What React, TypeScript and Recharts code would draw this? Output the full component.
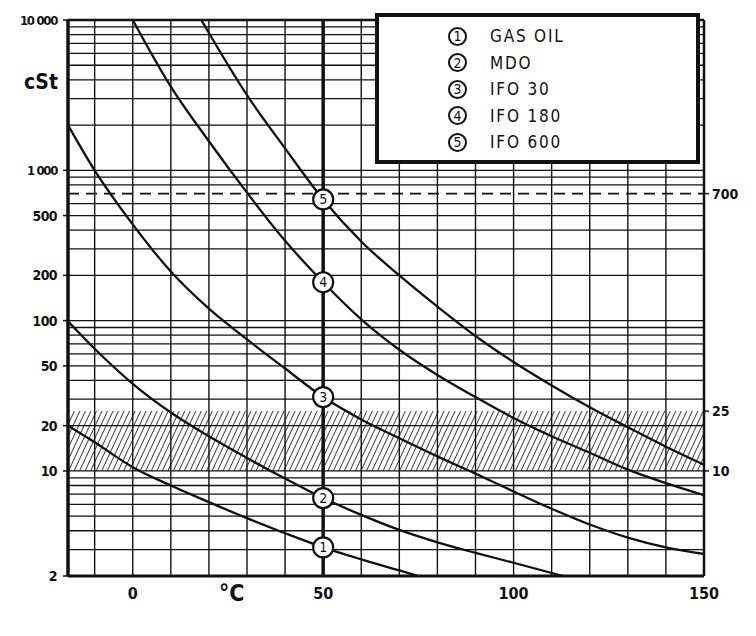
import React from "react";
import {
  LineChart,
  Line,
  XAxis,
  YAxis,
  ReferenceLine,
  ReferenceArea,
  ReferenceDot,
} from "recharts";

// viscosity (cSt) against temperature (°C)
const gasOilTemps = [-17, -10, 0, 10, 20, 30, 40, 50, 60, 70, 75];
const gasOilVisc = [20, 15.5, 10.6, 8.0, 6.2, 4.85, 3.85, 3.1, 2.58, 2.18, 2.0];

const mdoTemps = [-17, -10, 0, 10, 20, 30, 40, 50, 60, 70, 80, 90, 100, 113];
const mdoVisc = [99, 65, 38, 24.5, 17, 12.2, 8.9, 6.6, 5.1, 4.05, 3.35, 2.85, 2.45, 2.0];

const ifo30Temps = [-17, -10, 0, 10, 20, 30, 40, 50, 60, 70, 80, 90, 100, 110, 120, 130, 140, 150];
const ifo30Visc = [2000, 1000, 437, 212, 120, 75, 48, 31, 22, 16.5, 12.5, 9.6, 7.3, 5.6, 4.4, 3.6, 3.1, 2.8];

const ifo180Temps = [0, 10, 20, 30, 40, 50, 60, 70, 80, 90, 100, 110, 120, 130, 140, 150];
const ifo180Visc = [10000, 3600, 1560, 710, 340, 180, 102, 64, 43.5, 31, 22.5, 17, 13.2, 10.2, 8.3, 6.9];

const ifo600Temps = [18, 20, 30, 40, 50, 60, 70, 80, 90, 100, 110, 120, 130, 140, 150];
const ifo600Visc = [10000, 8200, 3160, 1400, 640, 336, 200, 124, 79, 53, 37, 26.5, 19.5, 14.5, 11];

const seriesNames = ["GAS OIL", "MDO", "IFO 30", "IFO 180", "IFO 600"];
const seriesTemps = [gasOilTemps, mdoTemps, ifo30Temps, ifo180Temps, ifo600Temps];
const seriesVisc = [gasOilVisc, mdoVisc, ifo30Visc, ifo180Visc, ifo600Visc];

const markerTemp = 50;

const xDomain = [-17, 150];
const xGrid = [-10, 0, 10, 20, 30, 40, 60, 70, 80, 90, 100, 110, 120, 130, 140];
const xTicks = [0, 26, 50, 100, 150];
const xTickLabels = ["0", "°C", "50", "100", "150"];

const yDomain = [2, 10000];
const yGrid = [
  3, 4, 5, 6, 7, 8, 9, 10,
  20, 30, 40, 50, 60, 70, 80, 90, 100,
  200, 300, 400, 500, 600, 800, 900, 1000,
  2000, 3000, 4000, 5000, 6000, 7000, 8000, 9000,
];
const yTicks = [2, 10, 20, 50, 100, 200, 500, 1000, 10000];
const yTickLabels = ["2", "10", "20", "50", "100", "200", "500", "1 000", "10 000"];
const rightTicks = [10, 25, 700];

const limitLine = 700;
const bandLow = 10;
const bandHigh = 25;

const FONT = "'DejaVu Sans Condensed', 'DejaVu Sans', sans-serif";
const INK = "#111";

const series = seriesNames.map((name, i) => ({
  id: i + 1,
  name,
  data: seriesTemps[i].map((t, j) => ({ t, v: seriesVisc[i][j] })),
  at50: seriesVisc[i][seriesTemps[i].indexOf(markerTemp)],
}));

const LeftTick = (props: any) => {
  const { x, y, payload } = props;
  const label = yTickLabels[yTicks.indexOf(payload.value)];
  const wide = payload.value >= 1000;
  return (
    <text
      x={x}
      y={y}
      dy={5}
      textAnchor="end"
      fontFamily={FONT}
      fontWeight="bold"
      fontSize={wide ? 13 : 14}
      letterSpacing={wide ? -1.3 : -0.6}
      fill={INK}
      style={{ whiteSpace: "pre" }}
    >
      {label}
    </text>
  );
};

const RightTick = (props: any) => {
  const { x, y, payload } = props;
  return (
    <text x={x} y={y} dy={5} textAnchor="start" fontFamily={FONT} fontWeight="bold" fontSize={14} fill={INK}>
      {payload.value}
    </text>
  );
};

const BottomTick = (props: any) => {
  const { x, y, payload } = props;
  const label = xTickLabels[xTicks.indexOf(payload.value)];
  const unit = label === "°C";
  return (
    <text
      x={x}
      y={y}
      dy={unit ? 17 : 15}
      textAnchor="middle"
      fontFamily={FONT}
      fontWeight="bold"
      fontSize={unit ? 23 : 16}
      fill={INK}
    >
      {label}
    </text>
  );
};

const Marker = (n: number) => (p: any) => (
  <g>
    <circle cx={p.cx} cy={p.cy} r={10} fill="#fff" stroke={INK} strokeWidth={2.2} />
    <text x={p.cx} y={p.cy} dy={5} textAnchor="middle" fontFamily={FONT} fontSize={14} fill={INK}>
      {n}
    </text>
  </g>
);

const FuelLegend = () => (
  <div
    style={{
      position: "absolute",
      left: 367,
      top: 5,
      width: 325,
      height: 151,
      boxSizing: "border-box",
      border: "4.5px solid #111",
      background: "#fff",
      paddingTop: 6,
      fontFamily: FONT,
    }}
  >
    {series.map((s) => (
      <div key={s.id} style={{ display: "flex", alignItems: "center", height: 26.5 }}>
        <span
          style={{
            marginLeft: 69,
            width: 19,
            height: 19,
            boxSizing: "border-box",
            border: "2px solid #111",
            borderRadius: "50%",
            display: "inline-flex",
            alignItems: "center",
            justifyContent: "center",
            fontSize: 14,
            color: INK,
          }}
        >
          {s.id}
        </span>
        <span style={{ marginLeft: 23, fontSize: 17, letterSpacing: 1.8, color: INK }}>{s.name}</span>
      </div>
    ))}
  </div>
);

const App = () => {
  return (
    <div style={{ position: "relative", width: 740, height: 620 }}>
      <LineChart width={740} height={620} margin={{ top: 12, right: 8, bottom: 22, left: 8 }}>
        <defs>
          <pattern id="hatch" width={5} height={8} patternUnits="userSpaceOnUse" patternTransform="rotate(25)">
            <line x1={0} y1={0} x2={0} y2={8} stroke={INK} strokeWidth={1.6} />
          </pattern>
        </defs>
        <XAxis
          dataKey="t"
          type="number"
          domain={xDomain}
          ticks={xTicks}
          tick={<BottomTick />}
          tickLine={false}
          axisLine={{ stroke: INK, strokeWidth: 3 }}
          height={30}
          allowDataOverflow
        />
        <YAxis
          yAxisId="left"
          scale="log"
          domain={yDomain}
          ticks={yTicks}
          tick={<LeftTick />}
          tickLine={{ stroke: INK, strokeWidth: 1.5 }}
          tickSize={5}
          tickMargin={6}
          axisLine={{ stroke: INK, strokeWidth: 3.5 }}
          width={52}
          allowDataOverflow
          label={{
            value: "cSt",
            position: "insideTop",
            dx: -1,
            dy: 49,
            fontFamily: FONT,
            fontWeight: "bold",
            fontSize: 21,
            fill: INK,
          }}
        />
        <YAxis
          yAxisId="right"
          orientation="right"
          scale="log"
          domain={yDomain}
          ticks={rightTicks}
          tick={<RightTick />}
          tickLine={{ stroke: INK, strokeWidth: 1.5 }}
          tickSize={5}
          tickMargin={3}
          axisLine={{ stroke: INK, strokeWidth: 2.5 }}
          width={36}
          allowDataOverflow
        />

        {yGrid.map((v) => (
          <ReferenceLine key={`h${v}`} yAxisId="left" y={v} stroke={INK} strokeWidth={1.3} />
        ))}
        {xGrid.map((t) => (
          <ReferenceLine key={`v${t}`} yAxisId="left" x={t} stroke={INK} strokeWidth={1.4} />
        ))}
        <ReferenceLine yAxisId="left" y={yDomain[1]} stroke={INK} strokeWidth={2.5} />
        <ReferenceArea
          yAxisId="left"
          y1={bandLow}
          y2={bandHigh}
          fill="url(#hatch)"
          fillOpacity={1}
          stroke="none"
        />
        <ReferenceLine yAxisId="left" y={limitLine} stroke={INK} strokeWidth={1.6} strokeDasharray="11 7" />
        <ReferenceLine yAxisId="left" x={markerTemp} stroke={INK} strokeWidth={3.5} />

        {series.map((s) => (
          <Line
            key={s.id}
            yAxisId="left"
            data={s.data}
            dataKey="v"
            name={s.name}
            type="monotone"
            stroke={INK}
            strokeWidth={2.3}
            dot={false}
            activeDot={false}
            isAnimationActive={false}
          />
        ))}

        {series.map((s) => (
          <ReferenceDot
            key={`m${s.id}`}
            yAxisId="left"
            x={markerTemp}
            y={s.at50}
            r={10}
            shape={Marker(s.id)}
          />
        ))}
      </LineChart>
      <FuelLegend />
    </div>
  );
};

export default App;
